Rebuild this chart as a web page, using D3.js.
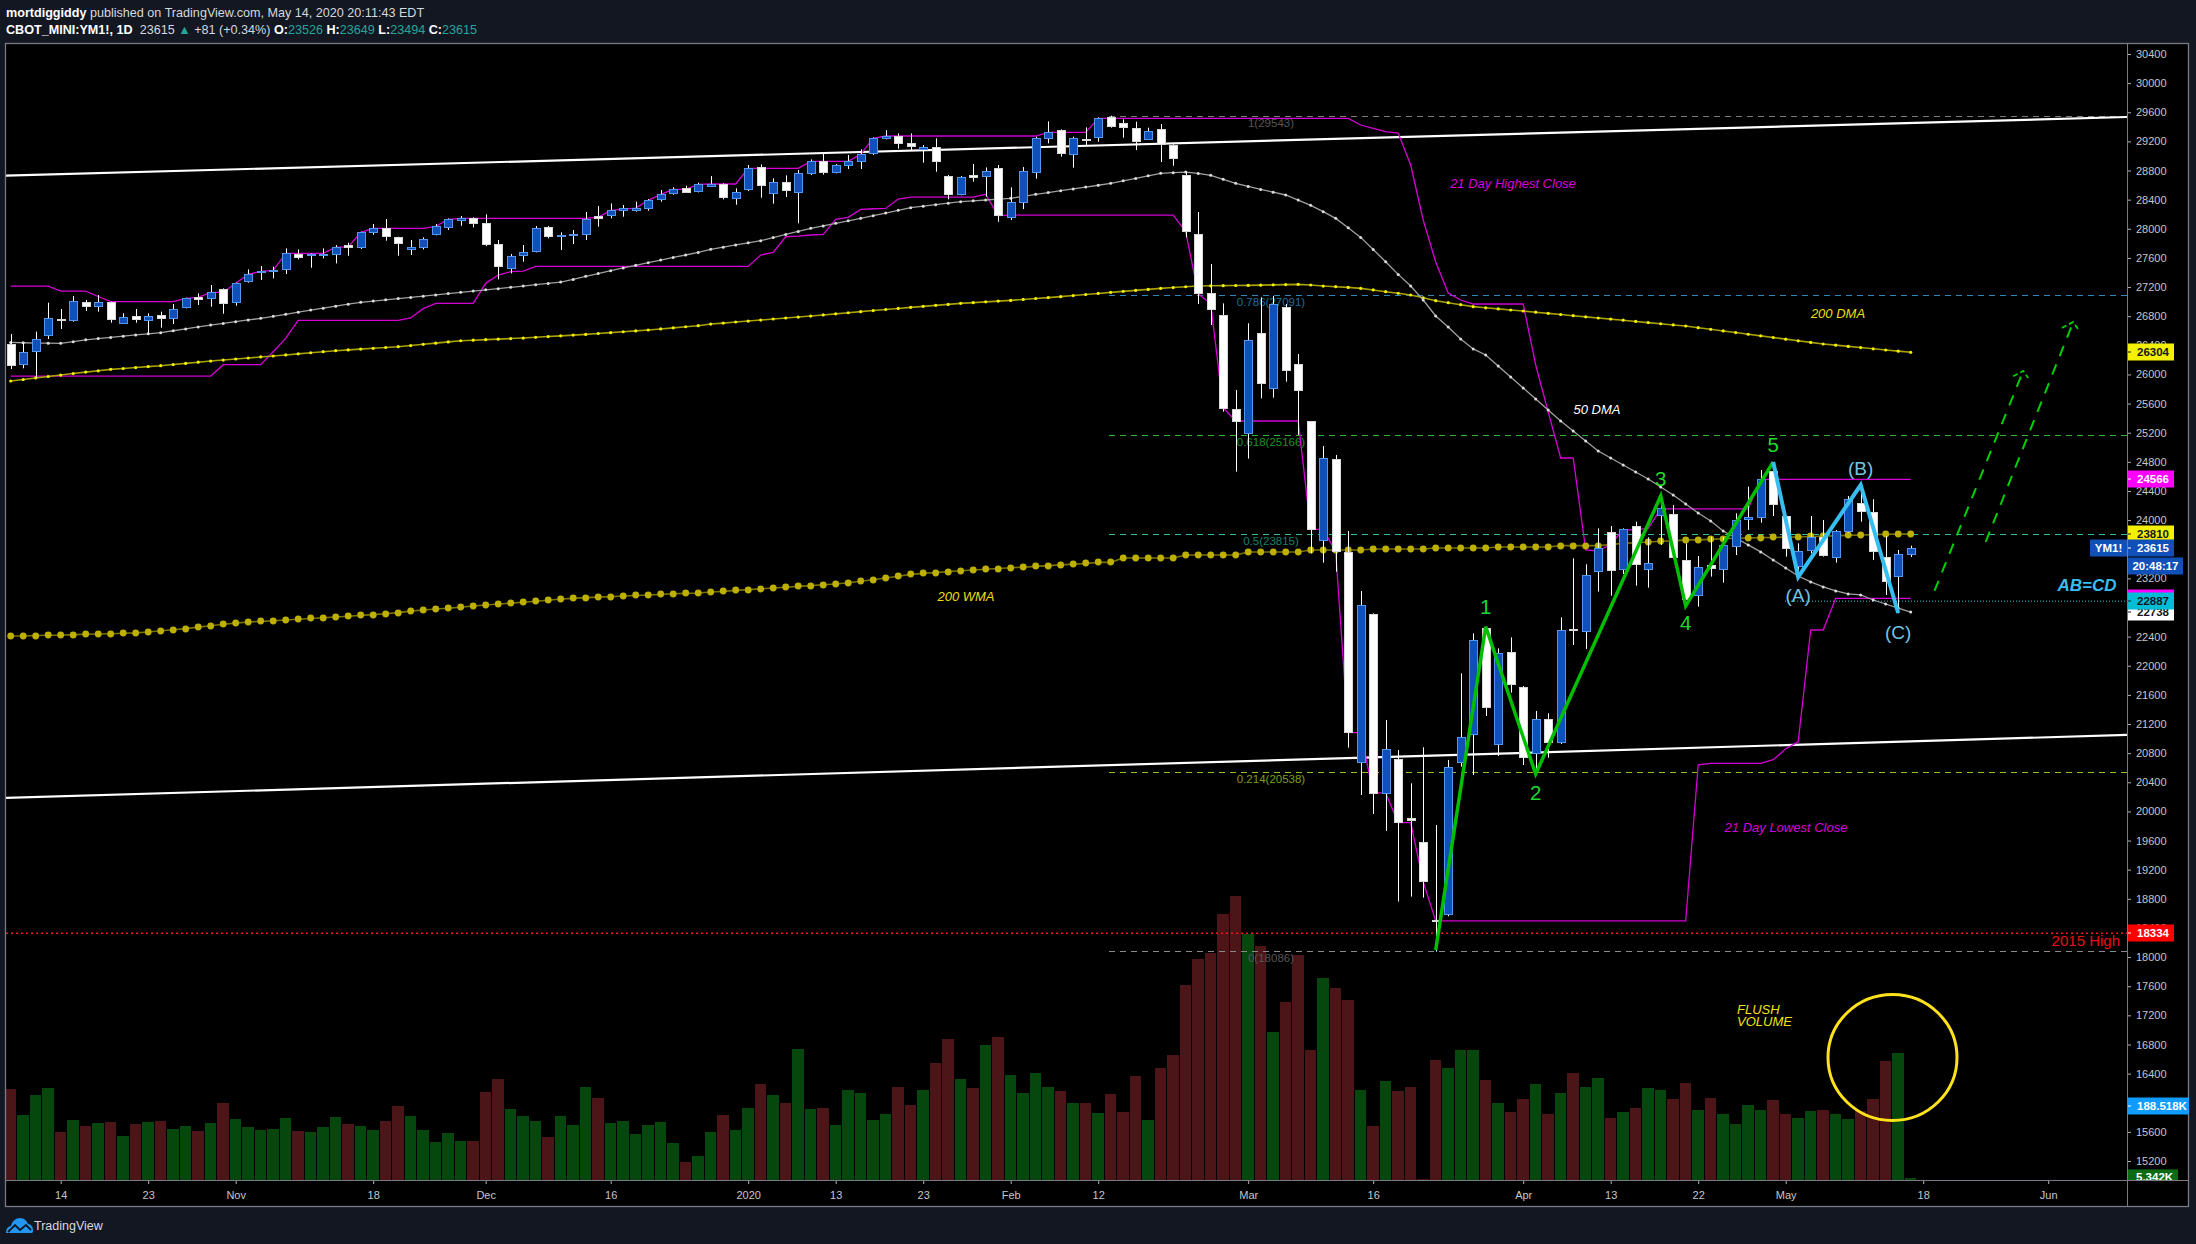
<!DOCTYPE html>
<html><head><meta charset="utf-8">
<script src="https://cdn.jsdelivr.net/npm/d3@7/dist/d3.min.js"></script>
<style>html,body{margin:0;padding:0;background:#131722;overflow:hidden}svg{display:block}text{font-family:"Liberation Sans",Arial,sans-serif}</style>
</head><body><div id="chart"></div>
<script>
// ---------- Daily candles (bar 0 .. 152) ----------
const opens=[26413,26134,26312,26532,26756,26738,26990,26930,26990,26710,26797,26738,26811,26765,26916,27058,27045,27168,26990,27273,27397,27411,27443,27658,27635,27644,27658,27772,27740,27951,28006,27882,27717,27740,27919,28015,28116,28143,28074,27786,27466,27630,27685,28019,27896,27919,27919,28175,28180,28248,28262,28276,28404,28486,28555,28509,
28592,28610,28413,28537,28843,28482,28637,28496,28756,28926,28770,28871,28921,29036,29242,29269,29173,29095,29118,28720,28468,28734,28720,28830,28152,28363,28770,29242,29351,29017,29232,29251,29539,29448,29379,29232,29365,29150,28734,27923,27118,26816,
25521,25187,26565,25805,26922,26139,25356,23722,24835,23558,20670,22711,20244,20716,19906,19576,18505,18583,20669,21054,22514,20917,22184,21704,20802,21264,20944,22501,22469,23292,
23832,23320,23915,23324,24061,24080,23448,22967,23379,23320,23636,24011,24034,24675,24052,23366,23581,23764,23485,23842,24231,24107,23489,23224,23526];
const highs=[26555,26427,26587,26985,26898,27077,27022,27090,26999,26839,26898,26839,26862,26967,27054,27113,27228,27182,27260,27443,27489,27479,27731,27717,27662,27731,27777,27809,27960,28065,28134,27891,27846,27882,28065,28143,28175,28157,28198,27846,27653,27777,28038,28038,27951,27983,28230,28312,28349,28326,28372,28409,28532,28569,28592,28633,
28724,28624,28555,28876,28885,28692,28734,28807,28953,29027,28889,29013,29091,29255,29356,29310,29310,29150,29242,28738,28724,28889,28843,28876,28569,28848,29265,29475,29365,29265,29393,29530,29553,29502,29470,29388,29438,29159,28784,28230,27516,26976,
25787,26702,27059,27077,26967,26281,25356,25018,24894,23851,23027,22720,21256,20844,20386,20881,19814,20707,21896,22445,22537,22239,22390,21722,21379,21347,22665,23475,23393,23887,
23919,23887,23979,23764,24331,24208,23681,23508,23773,23764,24093,24460,24688,24734,24057,23681,24057,24002,23865,24331,24460,24286,23782,23590,23649];
const lows=[26074,26084,25955,26486,26624,26724,26871,26862,26710,26701,26710,26564,26642,26692,26907,26953,26930,26834,26944,27260,27296,27319,27379,27580,27466,27594,27525,27630,27722,27919,27836,27630,27640,27717,27910,27983,28042,28019,27763,27305,27388,27548,27676,27868,27708,27791,27846,28029,28143,28166,28235,28248,28372,28468,28496,28500,
28587,28404,28331,28518,28427,28345,28436,28075,28738,28743,28761,28821,28821,29013,29228,29100,29081,28908,28784,28404,28459,28647,28441,28097,28120,28271,28688,29173,28990,28839,29150,29196,29388,29251,29081,29219,28917,28866,27882,26967,26679,25489,
24665,24844,25672,25681,25901,25169,23544,23416,23292,20876,20226,19965,19732,18762,18830,18816,18075,18560,20615,20500,21310,20761,21631,20637,20500,20738,20926,22285,22231,23018,
22963,23260,23100,23073,23659,23475,22903,22812,23224,23141,23521,23865,23965,24057,23498,23224,23544,23498,23416,23828,23979,23453,22972,22720,23494];
const closes=[26129,26303,26482,26770,26738,27003,26930,26990,26752,26793,26752,26797,26765,26894,27045,27026,27127,26971,27251,27374,27415,27429,27662,27617,27649,27658,27754,27745,27951,28006,27891,27795,27745,27855,28033,28129,28143,28074,27786,27479,27630,27676,28006,27891,27910,27928,28129,28152,28253,28280,28285,28390,28473,28541,28500,28610,
28615,28427,28500,28830,28592,28637,28523,28761,28926,28770,28871,28926,29022,29242,29269,29168,29127,29118,28921,28468,28706,28702,28789,28180,28363,28789,29242,29324,29031,29242,29223,29516,29416,29393,29196,29338,29164,28976,27960,27109,26903,25544,
25352,26469,25874,26963,26052,25777,23873,24848,23567,21082,22830,20258,20853,19846,19878,19036,18487,20606,21017,22349,21429,22171,21740,20743,21264,20944,22486,22482,23242,23613,
23306,23874,23389,23407,24162,23485,22917,23352,23334,23654,23997,24038,24560,24226,23608,23572,23764,23512,23846,24286,24116,23567,23155,23530,23615];

// ---------- Volume (thousands) and its colour per bar ----------
const volumes=[232,166,216,234,122,153,138,145,148,112,143,148,150,130,138,125,145,196,155,135,127,130,158,125,122,135,160,143,138,127,150,188,163,127,97,120,99,99,224,257,181,163,150,110,163,140,237,209,145,150,117,140,148,94,46,61,
122,166,127,183,245,216,196,334,181,183,140,229,222,153,168,237,191,229,298,359,257,234,344,364,267,222,273,237,227,196,196,171,219,173,265,153,285,318,497,563,578,677,723,627,596,377,453,573,331,514,489,458,229,138,252,227,237,3,306,285,
331,331,255,196,173,206,245,168,222,273,237,260,158,173,183,234,229,206,247,178,209,168,143,191,178,204,168,158,176,178,168,155,176,206,303,323,5.342];
const volumeSide="rgggrgrgrg"+"rgrggrgrgg"+"gggrgggrgg"+"rrgggggrrr"+"gggrgggrgg"+"ggggrg"+"grggrgrggr"+"gggggrrgrr"+"grgrggggrg"+"rgrrrgrrrr"+"rrrgrgrrrg"+"rrgrgrrrrg"+"ggrgrrgrgr"+"ggrgrggrrg"+"rggggrrggr"+"ggrrrgg";

// ---------- Indicators, one value per bar ----------
const wma200=[22409,22409,22415,22420,22420,22428,22432,22436,22440,22446,22452,22464,22480,22495,22510,22530,22550,22570,22585,22601,22610,22618,22628,22638,22650,22660,22670,22680,22692,22702,22715,22730,22750,22766,22780,22790,22805,22820,22835,22848,22860,22872,22885,22900,22917,22925,22935,22942,22950,22958,22965,22972,22980,22988,22994,23000,23012,23022,23035,23045,23056,23068,23078,23090,23100,23112,23123,23140,23160,23180,23205,23230,23255,23268,23280,23292,23304,23315,23325,23335,23345,23355,23365,23375,23385,23395,23405,23420,23420,23480,23480,23480,23480,23480,23520,23520,23520,23520,23520,23563,23563,23563,23563,23563,23590,23590,23590,23590,23590,23603,23603,23603,23603,23603,23617,23617,23617,23617,23617,23631,23631,23631,23631,23631,23650,23650,23650,23650,23665,23680,23690,23700,23710,23715,23728,23728,23735,23745,23750,23755,23760,23762,23766,23769,23775,23780,23785,23790,23795,23800,23805,23808,23810];
const dma200=[25910,25930,25952,25972,25992,26012,26032,26050,26070,26082,26095,26108,26120,26136,26152,26168,26184,26198,26212,26226,26240,26253,26268,26283,26298,26312,26326,26337,26348,26359,26370,26381,26397,26414,26430,26447,26463,26470,26478,26485,26493,26500,26510,26520,26530,26540,26550,26562,26574,26586,26598,26610,26625,26640,26655,26669,26692,26705,26720,26733,26747,26761,26775,26788,26802,26817,26832,26847,26862,26877,26892,26906,26921,26935,26949,26962,26976,26986,26997,27007,27017,27030,27043,27055,27068,27083,27098,27112,27127,27141,27155,27168,27182,27193,27204,27214,27217,27219,27221,27223,27226,27230,27234,27237,27228,27214,27205,27195,27182,27160,27136,27115,27091,27052,27013,26985,26958,26931,26915,26900,26885,26871,26855,26839,26823,26807,26791,26775,26760,26745,26728,26712,26696,26680,26665,26642,26620,26597,26575,26552,26530,26507,26485,26462,26440,26418,26402,26385,26369,26352,26336,26320,26304];
const dma50=[26440,26435,26430,26430,26427,26450,26475,26492,26509,26525,26542,26558,26573,26600,26625,26652,26678,26700,26725,26748,26770,26798,26826,26855,26884,26910,26938,26965,26990,27007,27025,27042,27058,27075,27092,27110,27127,27145,27162,27178,27196,27214,27232,27250,27269,27305,27347,27385,27425,27462,27498,27535,27571,27606,27640,27676,27718,27748,27778,27808,27837,27880,27922,27964,28006,28040,28075,28110,28143,28180,28216,28253,28290,28310,28331,28352,28372,28384,28395,28407,28418,28445,28473,28498,28523,28548,28573,28598,28624,28658,28692,28727,28761,28770,28779,28760,28734,28680,28624,28582,28541,28502,28464,28395,28322,28235,28143,28015,27882,27715,27548,27374,27215,27022,26803,26652,26487,26350,26267,26116,25965,25814,25663,25512,25361,25224,25086,24949,24853,24757,24661,24565,24455,24345,24222,24098,23988,23851,23755,23659,23563,23453,23343,23233,23151,23082,23027,22986,22972,22903,22848,22793,22738];
const highestClose21=[27214,27214,27214,27214,27145,27145,27145,27070,26999,26999,26999,26999,26999,26999,27045,27058,27127,27127,27251,27374,27415,27429,27662,27662,27662,27662,27749,27749,27951,28006,28006,28006,28006,28006,28033,28129,28143,28143,28143,28143,28143,28143,28143,28143,28143,28143,28143,28160,28253,28271,28285,28390,28473,28541,28541,28610,28615,28615,28615,28830,28830,28830,28830,28830,28926,28926,28926,28926,29022,29242,29274,29274,29274,29274,29274,29274,29274,29274,29274,29274,29274,29274,29274,29324,29324,29324,29324,29516,29516,29516,29516,29516,29516,29516,29516,29516,29516,29516,29516,29516,29516,29516,29516,29516,29516,29516,29516,29516,29425,29379,29333,29315,28876,28121,27544,27118,27022,26967,26967,26967,26967,26967,26130,25485,24853,24853,23590,23576,23668,23865,23865,23887,24153,24153,24153,24153,24153,24153,24153,24153,24560,24560,24560,24560,24560,24560,24560,24560,24560,24560,24560,24560,24560];
const lowestClose21=[25978,25978,25978,25978,25978,25978,25978,25978,25978,25978,25978,25978,25978,25978,25978,25978,25978,26134,26134,26134,26134,26312,26495,26743,26743,26743,26743,26743,26743,26743,26743,26743,26775,26903,26976,26976,26976,26976,27251,27365,27411,27420,27484,27484,27484,27484,27484,27484,27484,27484,27484,27484,27484,27484,27484,27484,27484,27484,27484,27484,27640,27676,27891,27900,27915,27923,28129,28157,28267,28275,28280,28409,28436,28436,28436,28436,28436,28436,28473,28180,28189,28189,28189,28189,28189,28189,28189,28189,28189,28189,28189,28189,28189,28189,27960,27109,26971,25544,25361,25361,25361,25361,25361,25361,23873,23873,23567,21082,21082,20258,20250,19846,19846,19036,18496,18496,18496,18496,18496,18496,18496,18496,18496,18496,18496,18496,18496,18496,18496,18496,18496,18496,18496,18496,18496,20640,20660,20660,20660,20660,20660,20710,20860,20954,22491,22491,22926,22926,22926,22926,22926,22926,22926];

// ---------- Axis ticks ----------
const priceTicks=[30400,30000,29600,29200,28800,28400,28000,27600,27200,26800,26400,26000,25600,25200,24800,24400,24000,23600,23200,22800,22400,22000,21600,21200,20800,20400,20000,19600,19200,18800,18400,18000,17600,17200,16800,16400,16000,15600,15200];
const timeTickBars=[4,11,18,29,38,48,59,66,73,80,87,99,109,121,128,135,142,153,163];
const timeTickLabels=["14","23","Nov","18","Dec","16","2020","13","23","Feb","12","Mar","16","Apr","13","22","May","18","Jun"];

// ---------- Drawings ----------
const fibLevels=[["1(29543)",29543,"#7a7a7a","#565656"],["0.786(27091)",27091,"#2a88bb","#1f6f9c"],["0.618(25166)",25166,"#2fb52f","#1e9226"],["0.5(23815)",23815,"#2fbf9c","#18806b"],["0.214(20538)",20538,"#8fc220","#7e9d1a"],["0(18086)",18086,"#8a8a8a","#565656"]];
const wavePointsGreen=[[114,18098],[118,22537],[122,20514],[132,24331],[134,22821],[141,24798]];
const wavePointsBlue=[[141,24798],[143,23219],[148,24482],[151,22725]];
const waveLabels=[["1",118,22810,"#1fd82f"],["2",122,20250,"#1fd82f"],["3",132,24565,"#1fd82f"],["4",134,22590,"#1fd82f"],["5",141,25030,"#1fd82f"],["(A)",143,22970,"#72c4e4"],["(B)",148,24715,"#72c4e4"],["(C)",151,22465,"#72c4e4"]];
const trendLines=[[[-0.4,28729],[169.3,29535]],[[-0.4,20185],[169.3,21050]]];
const projection=[[[153.9,23027],[161,26048]],[[158,23700],[165,26720]]];
const arrowHeads=[[[160.2,25975],[161,26048],[161.4,25950]],[[164.1,26640],[165,26720],[165.4,26620]]];
const priceTags=[[26304,"26304","#f5f000","#131722",46],[24566,"24566","#ff00ff","#ffffff",46],[23810,"23810","#f5f000","#131722",46],[22738,"22738","#ffffff","#131722",46],[22926,"","#ff00ff","#ffffff",46],[22887,"22887","#00bcd4","#131722",46],[18334,"18334","#ff0000","#ffffff",46]];

const W=2196,H=1244,L=6,R=2127,T=44,B=1180,FR=2189,FB=1207;
const x=d3.scaleLinear().domain([0,152]).range([10.7,1910.7]);
const y=d3.scaleLinear().domain([15200,30400]).range([1161,54]);
const v=d3.scaleLinear().domain([0,188.518]).range([1180,1106]);
const svg=d3.select("#chart").append("svg").attr("width",W).attr("height",H);
svg.append("rect").attr("width",W).attr("height",H).attr("fill","#131722");
svg.append("rect").attr("x",L).attr("y",T).attr("width",FR-L).attr("height",FB-T).attr("fill","#000");
svg.append("defs").append("clipPath").attr("id","plot").append("rect").attr("x",L).attr("y",T).attr("width",R-L).attr("height",B-T);
const plot=svg.append("g").attr("clip-path","url(#plot)");
const idx=d3.range(opens.length);

// volume
plot.append("g").selectAll("rect").data(idx).join("rect")
 .attr("x",i=>Math.round(x(i)-6)).attr("width",i=>Math.round(x(i+1)-6)-Math.round(x(i)-6)-1)
 .attr("y",i=>Math.round(v(volumes[i]))).attr("height",i=>1180-Math.round(v(volumes[i])))
 .attr("fill",i=>volumeSide[i]==="g"?"#05470d":"#4c1517").attr("shape-rendering","crispEdges");

// 2015 high & fib
plot.append("line").attr("x1",L).attr("x2",R).attr("y1",y(18334)+.5).attr("y2",y(18334)+.5).attr("stroke","#ff1010").attr("stroke-width",1.5).attr("stroke-dasharray","2 3");
const fx0=1109;
plot.append("g").selectAll("line").data(fibLevels).join("line").attr("x1",fx0).attr("x2",R)
 .attr("y1",d=>Math.round(y(d[1]))+.5).attr("y2",d=>Math.round(y(d[1]))+.5).attr("stroke",d=>d[2]).attr("stroke-width",1).attr("stroke-dasharray","6 5");
plot.append("line").attr("x1",1785).attr("x2",R).attr("y1",y(22887)).attr("y2",y(22887)).attr("stroke","#26c6da").attr("stroke-width",1).attr("stroke-dasharray","1 2");
plot.append("g").selectAll("text").data(fibLevels).join("text").attr("x",1271).attr("y",d=>y(d[1])+11)
 .attr("text-anchor","middle").attr("font-size",11.5).attr("fill",d=>d[3]).text(d=>d[0]);

// trend lines
const ln=d3.line().x(d=>x(d[0])).y(d=>y(d[1]));
plot.append("g").selectAll("path").data(trendLines).join("path").attr("d",ln).attr("fill","none").attr("stroke","#fff").attr("stroke-width",2.2);

// 21-day high/low
const series=a=>a.map((p,i)=>[i,p]);
[highestClose21,lowestClose21].forEach(a=>plot.append("path").attr("d",ln(series(a))).attr("fill","none").attr("stroke","#d600d6").attr("stroke-width",1.3));

// 200 WMA
plot.append("path").attr("d",ln(series(wma200))).attr("fill","none").attr("stroke","#7a7200").attr("stroke-width",1.6);
plot.append("g").selectAll("circle").data(idx).join("circle").attr("cx",x).attr("cy",i=>Math.round(y(wma200[i]))).attr("r",3.4).attr("fill","#bdb000");
// 200 DMA
plot.append("path").attr("d",ln(series(dma200))).attr("fill","none").attr("stroke","#a8a200").attr("stroke-width",1.6);
plot.append("g").selectAll("circle").data(idx).join("circle").attr("cx",x).attr("cy",i=>y(dma200[i])).attr("r",1.6).attr("fill","#f4ee00");
// 50 DMA
plot.append("path").attr("d",ln(series(dma50))).attr("fill","none").attr("stroke","#a0a0a0").attr("stroke-width",1.3);
plot.append("g").selectAll("circle").data(idx).join("circle").attr("cx",x).attr("cy",i=>y(dma50[i])).attr("r",1.5).attr("fill","#dcdcdc");

// candles
const c=plot.append("g");
c.selectAll("line").data(idx).join("line").attr("x1",i=>Math.round(x(i))+.5).attr("x2",i=>Math.round(x(i))+.5)
 .attr("y1",i=>y(highs[i])).attr("y2",i=>y(lows[i])).attr("stroke","#fff").attr("stroke-width",1);
c.selectAll("rect").data(idx).join("rect")
 .attr("x",i=>Math.round(x(i))-3.5).attr("width",8)
 .attr("y",i=>Math.round(y(Math.max(opens[i],closes[i])))+.5)
 .attr("height",i=>Math.max(1,Math.round(Math.abs(y(opens[i])-y(closes[i])))))
 .attr("fill",i=>closes[i]>=opens[i]?"#1150b8":"#ffffff")
 .attr("stroke",i=>closes[i]>=opens[i]?"#5595ec":"#d8d8d8").attr("stroke-width",1);

// waves
plot.append("path").attr("d",ln(wavePointsGreen)).attr("fill","none").attr("stroke","#00bf00").attr("stroke-width",3.5).attr("stroke-linejoin","miter");
plot.append("path").attr("d",ln(wavePointsBlue)).attr("fill","none").attr("stroke","#38bdf0").attr("stroke-width",4).attr("stroke-linejoin","miter");
plot.append("g").selectAll("text").data(waveLabels).join("text").attr("x",d=>x(d[1])).attr("y",d=>y(d[2])+7)
 .attr("text-anchor","middle").attr("font-size",d=>d[0].length>1?19:20.5).attr("fill",d=>d[3]).text(d=>d[0]);
plot.append("g").selectAll("path").data(projection).join("path").attr("d",ln).attr("fill","none").attr("stroke","#00cf00").attr("stroke-width",2).attr("stroke-dasharray","11 9");
plot.append("g").selectAll("path").data(arrowHeads).join("path").attr("d",ln).attr("fill","none").attr("stroke","#00cf00").attr("stroke-width",1.8).attr("stroke-dasharray","5 3");

// notes
const note=(t,px,py,col,size,anchor,extra)=>plot.append("text").attr("x",px).attr("y",py).attr("fill",col).attr("font-size",size).attr("font-style","italic").attr("text-anchor",anchor||"middle").attr("font-weight",extra||"normal").attr("dominant-baseline","middle").text(t);
note("200 WMA",966,598,"#ecdf12",13);
note("200 DMA",1838,315,"#ecdf12",13);
note("50 DMA",1597,411,"#ffffff",13);
note("21 Day Highest Close",1513,185,"#d800d8",13);
note("21 Day Lowest Close",1786,829,"#d800d8",13);
note("AB=CD",2087,587,"#38bdf0",17,"middle","bold");
note("FLUSH",1737,1011,"#f2e21a",13,"start");
note("VOLUME",1737,1023,"#f2e21a",13,"start");
plot.append("text").attr("x",2120).attr("y",942).attr("text-anchor","end").attr("dominant-baseline","middle").attr("font-size",15).attr("fill","#e81010").text("2015 High");
plot.append("ellipse").attr("cx",1892.5).attr("cy",1057.5).attr("rx",64.5).attr("ry",63).attr("fill","none").attr("stroke","#ffe21a").attr("stroke-width",3);

// frame
svg.append("rect").attr("x",L-.5).attr("y",T-.5).attr("width",FR-L).attr("height",FB-T).attr("fill","none").attr("stroke","#787b86").attr("stroke-width",1.3);

// axes
const yAxis=svg.append("g").attr("transform",`translate(${R},0)`).call(d3.axisRight(y).tickValues(priceTicks).tickSize(4).tickPadding(5).tickFormat(d3.format("d")));
yAxis.select(".domain").remove();
svg.append("line").attr("x1",R+.5).attr("x2",R+.5).attr("y1",T).attr("y2",FB).attr("stroke","#787b86");
const xAxis=svg.append("g").attr("transform",`translate(0,${B})`).call(d3.axisBottom(x).tickValues(timeTickBars).tickSize(4).tickPadding(7).tickFormat((d,i)=>timeTickLabels[i]));
xAxis.select(".domain").remove();
svg.append("line").attr("x1",L).attr("x2",FR).attr("y1",B+.5).attr("y2",B+.5).attr("stroke","#787b86");
[yAxis,xAxis].forEach(a=>{a.selectAll("text").attr("font-size",11).attr("fill","#c4c6cc").attr("font-family",'"Liberation Sans",Arial,sans-serif');a.selectAll("line").attr("stroke","#b0b3bb")});

// right-hand tags
const tag=(py,tx,bg,fg,w,h,xStart)=>{const g=svg.append("g");const x0=xStart||R+1;
 g.append("rect").attr("x",x0).attr("y",py-h/2).attr("width",w).attr("height",h).attr("fill",bg);
 if(tx)g.append("text").attr("x",x0+(xStart?w/2:9)).attr("y",py+.5).attr("dominant-baseline","middle").attr("text-anchor",xStart?"middle":"start").attr("font-size",11.5).attr("font-weight","bold").attr("fill",fg).text(tx);
 if(!xStart&&tx)g.append("line").attr("x1",x0).attr("x2",x0+3).attr("y1",py).attr("y2",py).attr("stroke",fg);};
priceTags.forEach(d=>tag(Math.round(y(d[0])),d[1],d[2],d[3],d[4],17));
tag(Math.round(y(23615)),"23615","#1150b8","#ffffff",46,17);
tag(Math.round(y(23615)),"YM1!","#1150b8","#ffffff",37,17,2090);
tag(566,"20:48:17","#1150b8","#ffffff",55,17,2128);
tag(v(188.518),"188.518K","#0f9bff","#ffffff",61,17);
svg.append("defs").append("clipPath").attr("id","vt").append("rect").attr("x",R).attr("y",T).attr("width",70).attr("height",B-T);
const vg=svg.append("g").attr("clip-path","url(#vt)");
vg.append("rect").attr("x",R+1).attr("y",v(5.342)-8.5).attr("width",50).attr("height",17).attr("fill","#0b6b12");
vg.append("text").attr("x",R+9).attr("y",v(5.342)+.5).attr("dominant-baseline","middle").attr("font-size",11.5).attr("font-weight","bold").attr("fill","#fff").text("5.342K");

// header
const h1=svg.append("text").attr("x",6).attr("y",16.5).attr("font-size",12.6).attr("fill","#d6d8de");
h1.append("tspan").attr("font-weight","bold").attr("fill","#ffffff").text("mortdiggiddy");
h1.append("tspan").text(" published on TradingView.com, May 14, 2020 20:11:43 EDT");
const h2=svg.append("text").attr("x",6).attr("y",34).attr("font-size",12.6).attr("fill","#d6d8de");
[["CBOT_MINI:YM1!, 1D","#fff","bold"],["  23615 ","#d6d8de"],["▲","#26a69a"],[" +81 (+0.34%) ","#d6d8de"],["O:","#fff","bold"],["23526 ","#26a69a"],["H:","#fff","bold"],["23649 ","#26a69a"],["L:","#fff","bold"],["23494 ","#26a69a"],["C:","#fff","bold"],["23615","#26a69a"]]
 .forEach(s=>h2.append("tspan").attr("fill",s[1]).attr("font-weight",s[2]||"normal").style("white-space","pre").text(s[0]));

// footer logo
const logo=svg.append("g").attr("transform","translate(6,1218)");
logo.append("path").attr("d","M0 15 C0 10 3 8 5 8 C6 3 10 0 14 0 C18 0 21 3 22 6 C25 6 27 9 27 12 C27 14 26.5 15 26 15 Z").attr("fill","#2196f3");
logo.append("path").attr("d","M2 14 L9 7 L14 12 L20 7 L25 12").attr("fill","none").attr("stroke","#131722").attr("stroke-width",1.8);
svg.append("text").attr("x",34).attr("y",1229.5).attr("font-size",12.5).attr("fill","#d6d8de").text("TradingView");
</script>
</body></html>
